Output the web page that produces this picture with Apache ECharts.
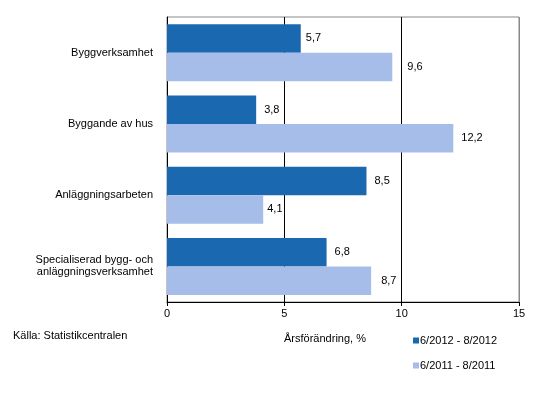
<!DOCTYPE html>
<html><head><meta charset="utf-8">
<script src="https://cdn.jsdelivr.net/npm/echarts@6/dist/echarts.min.js"></script>
<style>html,body{margin:0;padding:0;background:#fff}#c{width:538px;height:402px}</style>
</head><body><div id="c"></div>
<script>
const categories = ['Byggverksamhet', 'Byggande av hus', 'Anläggningsarbeten', 'Specialiserad bygg- och\nanläggningsverksamhet'];
const seriesNames = ['6/2012 - 8/2012', '6/2011 - 8/2011'];
const values2012 = [5.7, 3.8, 8.5, 6.8];
const values2011 = [9.6, 12.2, 4.1, 8.7];
const xTicks = [0, 5, 10, 15];

// label offsets (style only)
const labelGap2012 = [5, 8, 8, 8];
const labelGap2011 = [15, 8, 4, 10];

const font = 'Liberation Sans, Arial, sans-serif';
const chart = echarts.init(document.getElementById('c'));
const lbl = {show: true, position: 'right', distance: 8, color: '#000', fontFamily: font, fontSize: 11,
  formatter: p => String(p.value).replace('.', ',')};
const toItems = (vals, gaps) => vals.map((v, i) => ({value: v, label: {distance: gaps[i]}}));
chart.setOption({
  animation: false,
  grid: {left: 167, right: 19, top: 17, bottom: 100, show: true, borderColor: '#888', borderWidth: 1},
  xAxis: {type: 'value', min: xTicks[0], max: xTicks[xTicks.length - 1], interval: 5,
    axisLine: {show: true, lineStyle: {color: '#000'}},
    axisTick: {show: true, length: 4, lineStyle: {color: '#000'}},
    axisLabel: {color: '#000', fontFamily: font, fontSize: 11, margin: 6},
    splitLine: {show: true, lineStyle: {color: ['#000', '#000', '#000', '#888'], width: 1}},
    name: 'Årsförändring, %', nameLocation: 'middle', nameGap: 31,
    nameTextStyle: {color: '#000', fontFamily: font, fontSize: 11, padding: [0, 36, 0, 0]}},
  yAxis: {type: 'category', data: categories, inverse: true,
    axisLine: {show: true, lineStyle: {color: '#000'}},
    axisTick: {show: false},
    axisLabel: {color: '#000', fontFamily: font, fontSize: 11, margin: 14, lineHeight: 12, align: 'right'}},
  legend: {orient: 'vertical', left: 408, top: 330, itemGap: 14, itemWidth: 6, itemHeight: 6, icon: 'rect',
    itemStyle: {borderWidth: 0},
    textStyle: {color: '#000', fontFamily: font, fontSize: 11, padding: [0,0,0,-4]},
    data: seriesNames},
  graphic: [{type: 'text', left: 13, top: 330, style: {text: 'Källa: Statistikcentralen', fill: '#000', font: '11px ' + font}}],
  series: [
    {name: seriesNames[0], type: 'bar', data: toItems(values2012, labelGap2012), barGap: '0%', barCategoryGap: '20%',
      itemStyle: {color: '#1a68b0'}, label: lbl},
    {name: seriesNames[1], type: 'bar', data: toItems(values2011, labelGap2011), barGap: '0%', barCategoryGap: '20%',
      itemStyle: {color: '#a7bde9'}, label: lbl}
  ]
});
</script></body></html>
